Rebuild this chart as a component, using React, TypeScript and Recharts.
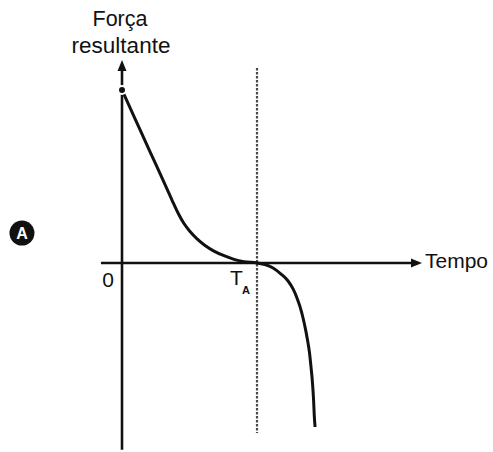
import React from 'react';
import { LineChart, Line, XAxis, YAxis, ReferenceLine, ReferenceDot } from 'recharts';

// Time (arbitrary units, T_A = 10) and resultant force (arbitrary units)
const timeValues = [
  0, 0.96, 2.07, 3.19, 3.7, 4.15, 4.59, 5.04, 5.56, 6.15, 6.81, 7.56, 8.3, 9.04, 10,
  10.59, 11.19, 11.78, 12.3, 12.67, 12.96, 13.19, 13.41, 13.59, 13.74, 13.89, 14.0, 14.11, 14.19, 14.24, 14.3,
];
const forceValues = [
  10, 8.35, 6.44, 4.53, 3.64, 2.89, 2.28, 1.82, 1.39, 1.01, 0.69, 0.42, 0.21, 0.08, 0,
  -0.09, -0.29, -0.64, -1.04, -1.5, -2.02, -2.54, -3.18, -3.82, -4.45, -5.2, -6.01, -6.94, -7.92, -8.79, -9.48,
];

const T_A = 10;
const xAxisLabel = 'Tempo';
const yAxisLabelLines = ['Força', 'resultante'];
const originLabel = '0';
const tALabel = 'T';
const tASub = 'A';
const panelLabel = 'A';

const X_DOMAIN: [number, number] = [-9.037, 27.48];
const Y_DOMAIN: [number, number] = [-10.925, 15.202];
const X_AXIS_START = -1.56;
const X_AXIS_END = 21.7;
const X_ARROW_TIP = 22.22;
const Y_AXIS_BOTTOM = -10.8;
const Y_AXIS_TOP = 11.2;
const Y_ARROW_TIP = 11.73;
const DOT_TOP = 11.27;
const DOT_BOTTOM = -9.83;

const data = timeValues.map((t, i) => ({ t, f: forceValues[i] }));

const INK = '#111';
const FONT = '"Liberation Sans", Arial, sans-serif';

const ArrowRight = (p: any) => (
  <g>
    <polygon points={`${p.cx},${p.cy} ${p.cx - 11},${p.cy - 4.5} ${p.cx - 11},${p.cy + 4.5}`} fill={INK} />
    <text x={p.cx + 3} y={p.cy + 5} fontFamily={FONT} fontSize={21} fill={INK}>{xAxisLabel}</text>
  </g>
);

const ArrowUp = (p: any) => (
  <g>
    <polygon points={`${p.cx},${p.cy} ${p.cx - 4.5},${p.cy + 11} ${p.cx + 4.5},${p.cy + 11}`} fill={INK} />
    <text x={p.cx - 2} y={p.cy - 34} textAnchor="middle" fontFamily={FONT} fontSize={21.5} fill={INK}>{yAxisLabelLines[0]}</text>
    <text x={p.cx - 1} y={p.cy - 7} textAnchor="middle" fontFamily={FONT} fontSize={22.5} fill={INK}>{yAxisLabelLines[1]}</text>
  </g>
);

const OriginLabel = (p: any) => (
  <text x={p.cx - 14} y={p.cy + 24} textAnchor="middle" fontFamily={FONT} fontSize={21} fill={INK}>{originLabel}</text>
);

const TALabel = (p: any) => (
  <g>
    <text x={p.cx - 27} y={p.cy + 22} fontFamily={FONT} fontSize={21} fill={INK}>{tALabel}</text>
    <text x={p.cx - 15} y={p.cy + 31} fontFamily={FONT} fontSize={11} fontWeight="bold" fill={INK}>{tASub}</text>
  </g>
);

const PanelBadge = (p: any) => (
  <g>
    <circle cx={p.cx} cy={p.cy} r={12.5} fill={INK} />
    <text x={p.cx} y={p.cy + 5.5} textAnchor="middle" fontFamily={FONT} fontSize={16} fontWeight="bold" fill="#fff">{panelLabel}</text>
  </g>
);

export default function App() {
  return (
    <div style={{ position: 'absolute', left: 0, top: 0, width: 493, height: 452, background: '#fff' }}>
      <LineChart width={493} height={452} data={data} margin={{ top: 0, right: 0, bottom: 0, left: 0 }}>
        <XAxis dataKey="t" type="number" domain={X_DOMAIN} allowDataOverflow hide />
        <YAxis type="number" domain={Y_DOMAIN} allowDataOverflow hide />
        <ReferenceLine
          segment={[{ x: T_A, y: DOT_TOP }, { x: T_A, y: DOT_BOTTOM }]}
          stroke="#4a4a4a"
          strokeWidth={2.2}
          strokeDasharray="2.5 1.5"
          ifOverflow="visible"
        />
        <ReferenceLine
          segment={[{ x: X_AXIS_START, y: 0 }, { x: X_AXIS_END, y: 0 }]}
          stroke={INK}
          strokeWidth={2.6}
          ifOverflow="visible"
        />
        <ReferenceLine
          segment={[{ x: 0, y: Y_AXIS_BOTTOM }, { x: 0, y: Y_AXIS_TOP }]}
          stroke={INK}
          strokeWidth={2.6}
          ifOverflow="visible"
        />
        <Line dataKey="f" type="monotone" dot={false} stroke={INK} strokeWidth={3} isAnimationActive={false} />
        <ReferenceDot x={X_ARROW_TIP} y={0} r={0} shape={ArrowRight} ifOverflow="visible" />
        <ReferenceDot x={0} y={Y_ARROW_TIP} r={0} shape={ArrowUp} ifOverflow="visible" />
        <ReferenceDot x={0} y={0} r={0} shape={OriginLabel} ifOverflow="visible" />
        <ReferenceDot x={T_A} y={0} r={0} shape={TALabel} ifOverflow="visible" />
        <ReferenceDot x={-7.41} y={1.73} r={0} shape={PanelBadge} ifOverflow="visible" />
      </LineChart>
    </div>
  );
}
